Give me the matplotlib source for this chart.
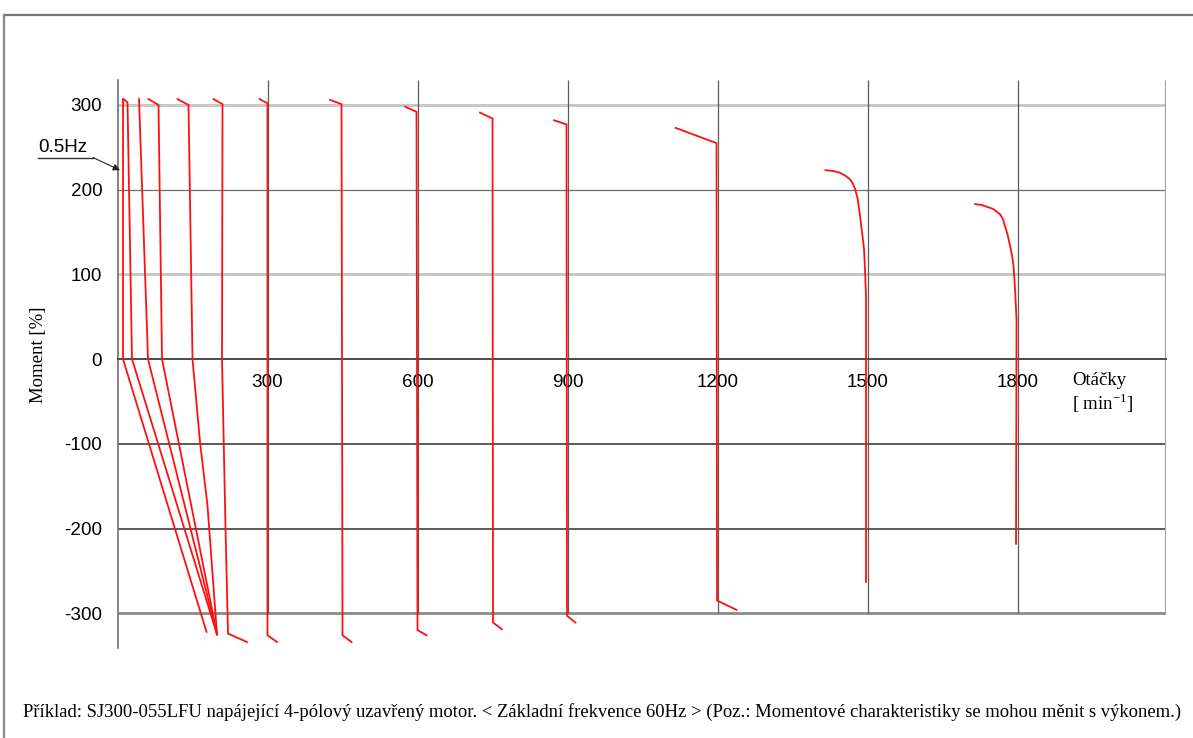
import matplotlib.pyplot as plt
from matplotlib.lines import Line2D

plt.rcParams['mathtext.fontset'] = 'custom'
plt.rcParams['mathtext.rm'] = 'Liberation Serif'

# torque curves, speed [min-1] and torque [%], one pair per output frequency
rpm_05 = [11, 11, 178]
trq_05 = [307, 0, -322]
rpm_1 = [12, 20, 29, 199]
trq_1 = [307, 303, 0, -325]
rpm_2 = [43, 61, 199]
trq_2 = [307, 0, -325]
rpm_3 = [62, 82, 89, 199]
trq_3 = [307, 300, 0, -325]
rpm_5 = [120, 142, 150, 165, 180, 199]
trq_5 = [307, 300, 0, -98, -173, -325]
rpm_7 = [192, 210, 209, 216, 221, 259]
trq_7 = [307, 301, 0, -200, -324, -334]
rpm_10 = [284, 300, 300, 319]
trq_10 = [307, 302, -326, -334]
rpm_15 = [425, 448, 450, 468]
trq_15 = [306, 301, -326, -334]
rpm_20 = [575, 598, 600, 618]
trq_20 = [298, 292, -320, -326]
rpm_25 = [725, 750, 751, 769]
trq_25 = [291, 284, -311, -319]
rpm_30 = [873, 898, 899, 916]
trq_30 = [282, 277, -303, -311]
rpm_40 = [1116, 1198, 1199, 1238]
trq_40 = [273, 255, -285, -296]
rpm_50 = [1416, 1432, 1445, 1457, 1465, 1471, 1475, 1480, 1485, 1489, 1493, 1495, 1497, 1497]
trq_50 = [223, 222, 220, 216, 212, 207, 201, 190, 169, 150, 130, 105, 75, -263]
rpm_60 = [1715, 1728, 1738, 1752, 1765, 1771, 1775, 1780, 1785, 1789, 1792, 1795, 1798, 1797]
trq_60 = [183, 182, 180, 177, 171, 165, 157, 147, 134, 122, 110, 83, 47, -218]

y_ticks = [300, 200, 100, 0, -100, -200, -300]
x_ticks = [300, 600, 900, 1200, 1500, 1800]

curves = [(rpm_05, trq_05), (rpm_1, trq_1), (rpm_2, trq_2), (rpm_3, trq_3),
          (rpm_5, trq_5), (rpm_7, trq_7), (rpm_10, trq_10), (rpm_15, trq_15),
          (rpm_20, trq_20), (rpm_25, trq_25), (rpm_30, trq_30),
          (rpm_40, trq_40), (rpm_50, trq_50), (rpm_60, trq_60)]

fig = plt.figure(figsize=(11.93, 7.38), dpi=100)
ax = fig.add_axes([0.0985, 0.122, 0.8789, 0.7696])
xmax, ytop, ybot = 2097, 329.5, -341
ax.set_xlim(0, xmax)
ax.set_ylim(ybot, ytop)

# grid
light = '#c4c4c4'
dark = '#5a5a5a'
for y in [300, 100]:
    ax.hlines(y, 0, xmax, color=light, lw=2.0, zorder=1)
ax.hlines(200, 0, xmax, color='#6e6e6e', lw=0.9, zorder=1)
for y in [-100, -200]:
    ax.hlines(y, 0, xmax, color=dark, lw=1.4, zorder=1)
ax.hlines(-300, 0, xmax, color='#8a8a8a', lw=2.0, zorder=1)
ax.vlines(x_ticks, -300, ytop, color='#5a5a5a', lw=0.9, zorder=1)
ax.vlines(xmax, -300, ytop, color='#a0a0a0', lw=2.2, zorder=1)

for s in ['top', 'right']:
    ax.spines[s].set_visible(False)
ax.spines['left'].set_color('#707070')
ax.spines['left'].set_linewidth(1.2)
ax.spines['bottom'].set_position(('data', 0))
ax.spines['bottom'].set_color('#4a4a4a')
ax.spines['bottom'].set_linewidth(1.4)

ax.set_yticks(y_ticks)
ax.set_yticklabels([str(v) for v in y_ticks], fontfamily='Liberation Sans', fontsize=13.6)
ax.set_xticks(x_ticks)
ax.set_xticklabels([str(v) for v in x_ticks], fontfamily='Liberation Sans', fontsize=13.6)
ax.tick_params(axis='y', length=0, pad=11)
ax.tick_params(axis='x', length=0, pad=11)

for rpm, trq in curves:
    ax.plot(rpm, trq, color='#ff1010', lw=1.3, zorder=3, solid_joinstyle='miter')

# 0.5Hz label with arrow
ax.text(-159, 250, '0.5Hz', fontfamily='Liberation Sans', fontsize=13.6,
        ha='left', va='center')
ax.plot([-159, -49], [238, 238], color='#333333', lw=1.0, clip_on=False)
ax.annotate('', xy=(5, 223), xytext=(-49, 238), annotation_clip=False,
            arrowprops=dict(arrowstyle='-|>', color='#222222', lw=0.8,
                            mutation_scale=10, shrinkA=0, shrinkB=0))

# axis titles
ax.text(1909, -31, 'Otáčky', fontfamily='Liberation Serif', fontsize=13.5,
        ha='left', va='baseline')
ax.text(1909, -60, '[ min$^{\\mathregular{-1}}$]', fontfamily='Liberation Serif',
        fontsize=13.5, ha='left', va='baseline')
fig.text(38 / 1193, 1 - 355 / 738, 'Moment [%]', fontfamily='Liberation Serif',
         fontsize=13.5, rotation=90, ha='center', va='center')

fig.text(0.505, 1 - 712 / 738,
         'Příklad: SJ300-055LFU napájející 4-pólový uzavřený motor. '
         '< Základní frekvence 60Hz > (Poz.: Momentové charakteristiky se mohou měnit s výkonem.)',
         fontfamily='Liberation Serif', fontsize=13.45, ha='center', va='center')

# outer frame
fig.add_artist(Line2D([4 / 1193, 1], [1 - 15 / 738, 1 - 15 / 738],
                      color='#777777', lw=1.6, transform=fig.transFigure))
fig.add_artist(Line2D([4 / 1193, 4 / 1193], [0, 1 - 15 / 738],
                      color='#888888', lw=1.6, transform=fig.transFigure))

fig.savefig('out.png', dpi=100)
